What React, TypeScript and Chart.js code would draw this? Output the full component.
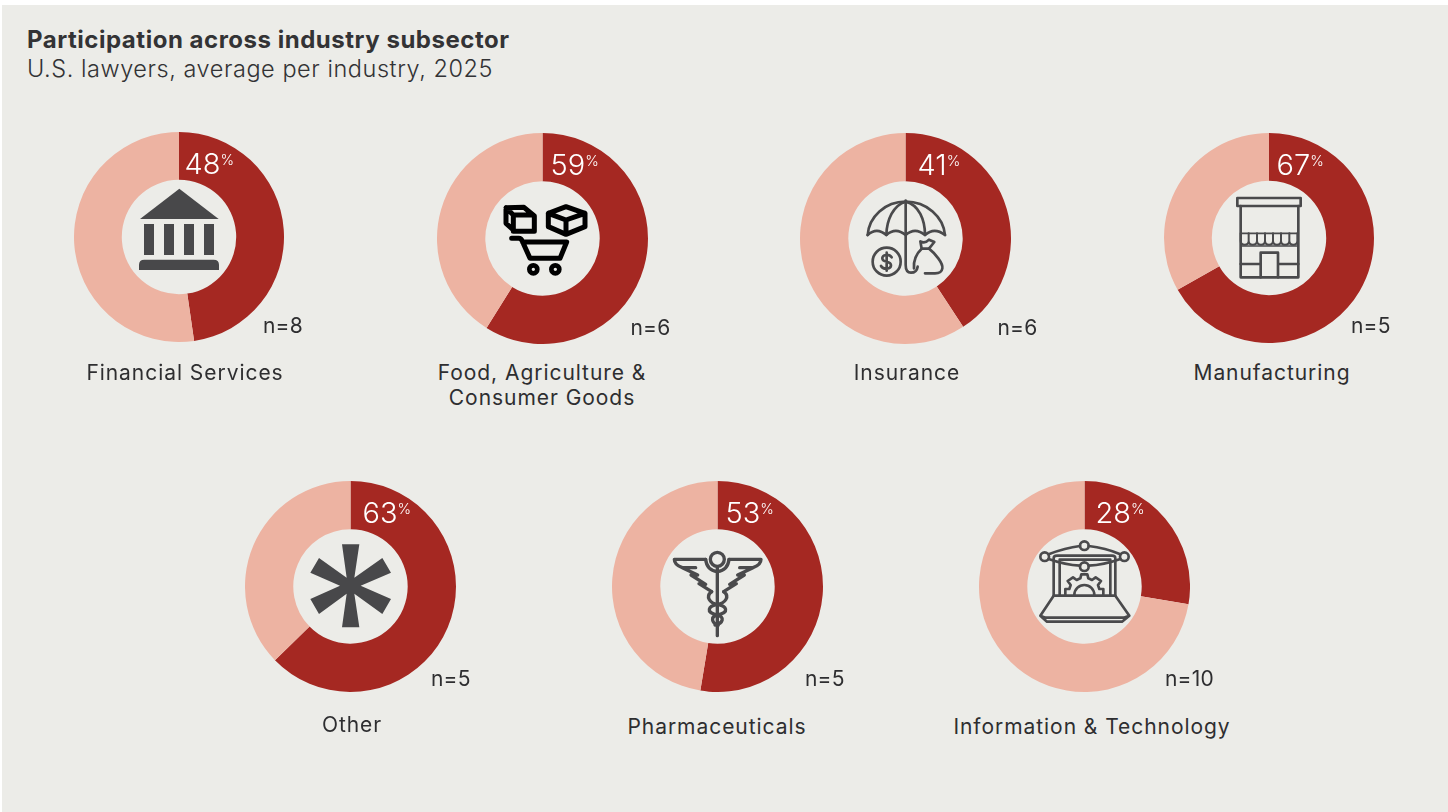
import React, { useEffect, useRef } from "react";
import { Chart, registerables } from "chart.js";

Chart.register(...registerables);

const title = "Participation across industry subsector";
const subtitle = "U.S. lawyers, average per industry, 2025";
const categories = ["Financial Services", "Food, Agriculture &\nConsumer Goods", "Insurance", "Manufacturing", "Other", "Pharmaceuticals", "Information & Technology"];
const participation = [47.7, 58.9, 40.8, 66.8, 62.7, 52.6, 27.7];
const sampleSizes = [8, 6, 6, 5, 5, 5, 10];

const centerX = [179, 542.5, 905.5, 1269, 350.5, 717.5, 1084.5];
const centerY = [237, 238, 238, 238, 586, 586, 586];
const outerRadius = [105, 105.5, 105.5, 105, 105.5, 105.5, 105.5];
const pctX = [184.5, 550.5, 917.5, 1276.5, 362.5, 725.5, 1095.5];
const nX = [263, 630.5, 997.5, 1351, 431, 805, 1165];
const nY = [326, 328, 328, 326, 679, 679, 679];
const labelX = [185, 542, 907, 1272, 352, 717, 1092];
const labelY = [373, 373, 373, 373, 725, 727, 727];

const RED = "#A52822";
const PINK = "#EDB3A2";
const BG = "#ECECE8";
const INK = "#2E2E30";
const ICON = "#4A4A4C";
const FONT = "Inter, 'Open Sans', sans-serif";
const HOLE_RADIUS = 57.2;

function Doughnut({ i }: { i: number }) {
  const ref = useRef<HTMLCanvasElement>(null);
  const r = outerRadius[i];
  useEffect(() => {
    const chart = new Chart(ref.current!, {
      type: "doughnut",
      data: {
        labels: ["Participating", "Not participating"],
        datasets: [{ data: [participation[i], 100 - participation[i]], backgroundColor: [RED, PINK], borderWidth: 0 }],
      },
      options: {
        animation: false,
        responsive: false,
        cutout: HOLE_RADIUS,
        rotation: 0,
        layout: { padding: 0 },
        plugins: { legend: { display: false }, tooltip: { enabled: false } },
      },
    });
    return () => chart.destroy();
  }, [i]);
  return (
    <canvas
      ref={ref}
      width={r * 2}
      height={r * 2}
      style={{ position: "absolute", left: centerX[i] - r, top: centerY[i] - r, width: r * 2, height: r * 2 }}
    />
  );
}

const text = (left: number, top: number, size: number, extra: React.CSSProperties = {}): React.CSSProperties => ({
  position: "absolute",
  left,
  top,
  fontSize: size,
  fontFamily: FONT,
  color: INK,
  whiteSpace: "pre",
  ...extra,
});

const iconBox = (left: number, top: number, w: number, h: number): React.SVGProps<SVGSVGElement> => ({
  style: { position: "absolute", left, top, width: w, height: h },
  viewBox: `0 0 ${w * 3} ${h * 3}`,
  fill: "none",
  stroke: ICON,
  strokeWidth: 8,
  strokeLinecap: "round",
  strokeLinejoin: "round",
});

function Icons() {
  return (
    <>
      {/* bank */}
      <svg {...iconBox(0, 0, 310, 400)} stroke="none" fill="#48484A">
        <path d="M538 566 L420 657 L656 657 Z" />
        <rect x="432" y="672" width="30" height="93" />
        <rect x="492" y="672" width="30" height="93" />
        <rect x="552" y="672" width="30" height="93" />
        <rect x="612" y="672" width="30" height="93" />
        <path d="M417 810 V795 Q417 779 433 779 H641 Q657 779 657 795 V810 Z" />
      </svg>
      {/* cart */}
      <svg {...iconBox(480, 170, 130, 120)} stroke="#000" strokeWidth={15}>
        <path d="M78 113 L132 112 L163 138 V184 H105 L78 160 Z M100 135 H160 M100 135 V184 M100 135 L78 113" />
        <path d="M258 110 L315 130 V170 L258 193 L205 170 V130 Z M205 130 L258 150 L315 130 M258 150 V193" />
        <path d="M95 205 H116 Q124 205 128 216 L150 265 H240 L260 216 H128" />
        <circle cx="160" cy="298" r="12" strokeWidth={14} />
        <circle cx="226" cy="298" r="12" strokeWidth={14} />
      </svg>
      {/* umbrella */}
      <svg {...iconBox(845, 170, 130, 120)}>
        <path d="M68 195 C72 140 120 95 182 95 C245 95 295 140 300 195" />
        <path d="M68 195 Q95 170 124 195 Q152 170 182 195 Q210 170 240 195 Q268 170 300 195" />
        <path d="M182 95 C145 105 125 150 124 195 M182 95 C222 105 240 150 240 195" />
        <path d="M182 92 V285 Q182 308 198 308 Q215 308 218 290" />
        <circle cx="125" cy="275" r="42" />
        <path d="M140 262 C132 250 110 254 112 266 C114 280 138 270 138 286 C138 298 115 300 108 288 M125 248 V302" />
        <path d="M230 236 H252 L268 216 L252 209 Q240 222 226 214 Z" />
        <path d="M230 236 C215 250 205 270 207 295 M252 236 C270 250 295 280 292 295 Q290 310 270 310 H240" />
      </svg>
      {/* storefront */}
      <svg {...iconBox(1210, 170, 130, 120)}>
        <path d="M82 84 H272 V108 H82 Z" />
        <path d="M92 108 V322 H265 V108" />
        <path d="M92 190 H265 M92 228 H265" strokeWidth={5} />
        <path d="M92 190 V212 Q92 224 104 224 Q116 224 116 212 V190 M116 212 Q116 224 128 224 Q141 224 141 212 V190 M141 212 Q141 224 153 224 Q165 224 165 212 V190 M165 212 Q165 224 177 224 Q189 224 189 212 V190 M189 212 Q189 224 201 224 Q213 224 213 212 V190 M213 212 Q213 224 225 224 Q238 224 238 212 V190 M238 212 Q238 224 250 224 Q262 224 262 212 V190" strokeWidth={6} />
        <path d="M152 322 V248 H204 V322 M92 282 H152 M204 282 H265" />
      </svg>
      {/* asterisk */}
      <svg {...iconBox(290, 525, 130, 120)} stroke="none" fill="#48484A">
        <path d="M156 58 H208 L193 158 L277 99 L303 143 L212 182 L303 222 L277 267 L193 206 L208 307 H156 L170 206 L87 267 L61 222 L150 182 L61 143 L87 99 L170 158 Z" />
      </svg>
      {/* caduceus */}
      <svg {...iconBox(655, 525, 130, 120)} strokeWidth={10}>
        <circle cx="187" cy="103" r="21" />
        <path d="M187 125 V332" />
        <path d="M152 103 H58 C58 118 70 124 82 128 L128 150 L108 150 L152 178 L132 176 L170 200 M85 128 H122" />
        <path d="M152 103 Q155 135 187 140" />
        <path d="M222 103 H318 C318 118 306 124 294 128 L248 150 L268 150 L224 178 L244 176 L206 200 M291 128 H254" />
        <path d="M222 103 Q219 135 187 140" />
        <path d="M170 200 C150 215 165 235 187 238 C215 243 225 262 187 270 C165 275 170 295 190 300 M206 200 C226 215 210 235 187 238 C160 243 150 262 187 270 C210 275 205 295 180 300" />
      </svg>
      {/* laptop and gear */}
      <svg {...iconBox(1022, 525, 130, 120)}>
        <circle cx="187" cy="62" r="13" />
        <circle cx="68" cy="95" r="13" />
        <circle cx="307" cy="95" r="13" />
        <circle cx="187" cy="125" r="13" />
        <path d="M80 88 Q130 68 174 63 M200 63 Q250 68 295 88 M80 102 Q130 120 174 122 M200 122 Q245 120 295 102" />
        <path d="M95 212 V100 Q95 92 105 92 H270 Q280 92 280 100 V212 M113 212 V104 H265 V212" />
        <path d="M130 208 V192 H142 L146 180 L137 168 L153 157 L164 165 L175 160 L178 148 H196 L199 160 L210 165 L221 157 L237 168 L228 180 L232 192 H244 V208" />
        <path d="M157 210 A30 30 0 0 1 217 210" />
        <path d="M95 212 H280 L322 272 L300 290 H75 L55 272 Z M55 272 L70 278 H305 L322 272" />
      </svg>
    </>
  );
}

export default function App() {
  useEffect(() => {
    document.body.style.margin = "0";
    document.body.style.background = "#FFFFFF";
  }, []);
  return (
    <div style={{ position: "relative", width: 1448, height: 812, overflow: "hidden", background: "#FFFFFF" }}>
      <div style={{ position: "absolute", left: 2, top: 5, right: 0, bottom: 0, background: BG }} />
      <div style={text(27, 25, 24, { fontWeight: 650, letterSpacing: 0.52, color: "#333335" })}>{title}</div>
      <div style={text(27, 54, 23.5, { letterSpacing: 0.55, fontWeight: 350, color: "#333335" })}>{subtitle}</div>
      {categories.map((_, i) => (
        <Doughnut key={i} i={i} />
      ))}
      <Icons />
      {categories.map((c, i) => (
        <React.Fragment key={c}>
          <div style={text(pctX[i], centerY[i] - 94.5, 29, { color: "#FFFFFF", lineHeight: "34px", fontWeight: 300 })}>
            {Math.round(participation[i])}
            <span style={{ fontSize: 14.5, verticalAlign: 9 }}>%</span>
          </div>
          <div style={text(nX[i], nY[i] - 13, 21, { lineHeight: "26px", letterSpacing: 0.2 })}>{`n=${sampleSizes[i]}`}</div>
          <div
            style={text(labelX[i], labelY[i] - 13, 21, {
              lineHeight: "25px",
              textAlign: "center",
              transform: "translateX(-50%)",
              letterSpacing: 0.95,
            })}
          >
            {c}
          </div>
        </React.Fragment>
      ))}
    </div>
  );
}
